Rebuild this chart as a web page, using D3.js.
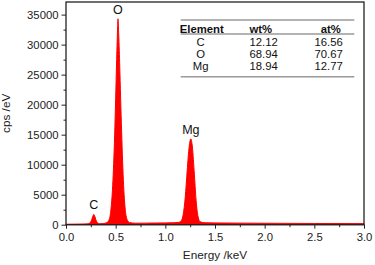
<!DOCTYPE html>
<html>
<head>
<meta charset="utf-8">
<script src="https://cdn.jsdelivr.net/npm/d3@7"></script>
<style>
    body { margin: 0; background: #fff; }
    svg { display: block; font-family: "Liberation Sans", Arial, sans-serif; }
    .axis text { font-size: 11.3px; fill: #222; }
    .axis line, .axis path { stroke: #222; }
</style>
</head>
<body>
<div id="edsDiv"></div>
<script>
(function () {

    // Spectrum (keV, cps/eV)
    var energy = [0.00, 0.10, 0.18, 0.22, 0.24, 0.26, 0.27, 0.28, 0.29, 0.30, 0.32, 0.34, 0.38,
        0.41, 0.43, 0.45, 0.47, 0.49, 0.50, 0.51, 0.52, 0.523, 0.53, 0.54, 0.55, 0.56, 0.57,
        0.58, 0.59, 0.60, 0.62, 0.64, 0.70, 0.80, 0.90, 1.00, 1.08, 1.13, 1.16, 1.18, 1.20,
        1.22, 1.24, 1.257, 1.27, 1.29, 1.31, 1.33, 1.35, 1.40, 1.60, 2.00, 2.50, 3.00];
    var counts = [80, 100, 120, 160, 280, 900, 1400, 1700, 1400, 850, 280, 160, 200,
        350, 700, 2200, 6500, 15000, 21000, 27500, 33000, 34300, 32000, 27000, 21000, 15500, 10500,
        6500, 3800, 2000, 700, 350, 250, 260, 280, 300, 320, 380, 650, 1700, 4500,
        9000, 13000, 14300, 13300, 9000, 4000, 1300, 500, 320, 280, 240, 200, 180];

    // Peak labels
    var peakNames = ["C", "O", "Mg"];
    var peakEnergy = [0.28, 0.523, 1.257];
    var peakCounts = [1700, 34300, 14300];

    // Composition table
    var tableHeader = ["Element", "wt%", "at%"];
    var elements = ["C", "O", "Mg"];
    var wtPct = ["12.12", "68.94", "18.94"];
    var atPct = ["16.56", "70.67", "12.77"];

    // Ticks
    var xTicks = [0, 0.5, 1.0, 1.5, 2.0, 2.5, 3.0];
    var xMinor = [0.25, 0.75, 1.25, 1.75, 2.25, 2.75];
    var yTicks = [0, 5000, 10000, 15000, 20000, 25000, 30000, 35000];
    var yMinor = [2500, 7500, 12500, 17500, 22500, 27500, 32500];

    var red = "#ff0000";

    var W = 375, H = 265;
    var margin = {top: 2, right: 11, bottom: 40.3, left: 66},
        width = W - margin.left - margin.right,
        height = H - margin.top - margin.bottom;

    var svg = d3.select("#edsDiv")
        .append("svg")
        .attr("width", W)
        .attr("height", H)
        .append("g")
        .attr("transform", "translate(" + margin.left + "," + margin.top + ")");

    var x = d3.scaleLinear().domain([0, 3]).range([0, width]);
    var y = d3.scaleLinear().domain([0, 37100]).range([height, 0]);

    var pts = energy.map(function (e, i) { return [e, counts[i]]; });

    // Spectrum area
    svg.append("path")
        .datum(pts)
        .attr("fill", red)
        .attr("stroke", red)
        .attr("stroke-width", 1)
        .attr("d", d3.area()
            .curve(d3.curveMonotoneX)
            .x(function (d) { return x(d[0]); })
            .y0(y(0))
            .y1(function (d) { return y(d[1]); }));

    // Peak labels
    svg.selectAll(".peak")
        .data(peakNames)
        .enter().append("text")
        .attr("class", "peak")
        .attr("x", function (d, i) { return x(peakEnergy[i]); })
        .attr("y", function (d, i) { return y(peakCounts[i]) - 5; })
        .attr("text-anchor", "middle")
        .style("font-size", "12.5px")
        .style("fill", "#111")
        .text(function (d) { return d; });

    // Axes
    svg.append("g")
        .attr("class", "axis")
        .attr("transform", "translate(0," + height + ")")
        .call(d3.axisBottom(x).tickValues(xTicks).tickFormat(d3.format(".1f"))
            .tickSize(4).tickSizeOuter(0).tickPadding(4));

    svg.append("g")
        .attr("class", "axis")
        .attr("transform", "translate(0," + height + ")")
        .call(d3.axisBottom(x).tickValues(xMinor).tickFormat("").tickSize(2.5).tickSizeOuter(0));

    svg.append("g")
        .attr("class", "axis")
        .call(d3.axisLeft(y).tickValues(yTicks).tickFormat(d3.format("d"))
            .tickSize(4.5).tickSizeOuter(0).tickPadding(3));

    svg.append("g")
        .attr("class", "axis")
        .call(d3.axisLeft(y).tickValues(yMinor).tickFormat("").tickSize(2.5).tickSizeOuter(0));

    svg.selectAll(".axis .domain").remove();

    // Frame
    svg.append("rect")
        .attr("x", 0)
        .attr("y", 0)
        .attr("width", width)
        .attr("height", height)
        .attr("fill", "none")
        .attr("stroke", "#222")
        .attr("stroke-width", 1.3);

    // Axis titles
    svg.append("text")
        .attr("x", width / 2)
        .attr("y", height + 34)
        .attr("text-anchor", "middle")
        .style("font-size", "11.8px")
        .style("fill", "#222")
        .text("Energy /keV");

    svg.append("text")
        .attr("transform", "rotate(-90)")
        .attr("x", -height / 2)
        .attr("y", -margin.left + 10)
        .attr("text-anchor", "middle")
        .style("font-size", "11.8px")
        .style("fill", "#222")
        .text("cps /eV");

    // Table
    var tbl = svg.append("g").attr("transform", "translate(" + (180.7 - margin.left) + ",0)");
    var tblW = 173.6;
    var colX = [21, 80, 150];
    var valX = [20, 83, 148];
    var rowY = [44, 56.3, 68];

    [18, 32, 74.7].forEach(function (ly) {
        tbl.append("line")
            .attr("x1", 0).attr("x2", tblW)
            .attr("y1", ly).attr("y2", ly)
            .attr("stroke", "#9a9a9a")
            .attr("stroke-width", 1.4);
    });

    tbl.selectAll(".hdr")
        .data(tableHeader)
        .enter().append("text")
        .attr("class", "hdr")
        .attr("x", function (d, i) { return colX[i]; })
        .attr("y", 30.5)
        .attr("text-anchor", "middle")
        .style("font-size", "11.3px")
        .style("font-weight", "bold")
        .style("fill", "#111")
        .text(function (d) { return d; });

    var rows = tbl.selectAll(".row")
        .data(elements)
        .enter().append("g")
        .attr("class", "row")
        .attr("transform", function (d, i) { return "translate(0," + rowY[i] + ")"; });

    rows.each(function (d, i) {
        var g = d3.select(this);
        [d, wtPct[i], atPct[i]].forEach(function (v, j) {
            g.append("text")
                .attr("x", valX[j])
                .attr("text-anchor", "middle")
                .style("font-size", "11.3px")
                .style("fill", "#111")
                .text(v);
        });
    });

})();
</script>
</body>
</html>
